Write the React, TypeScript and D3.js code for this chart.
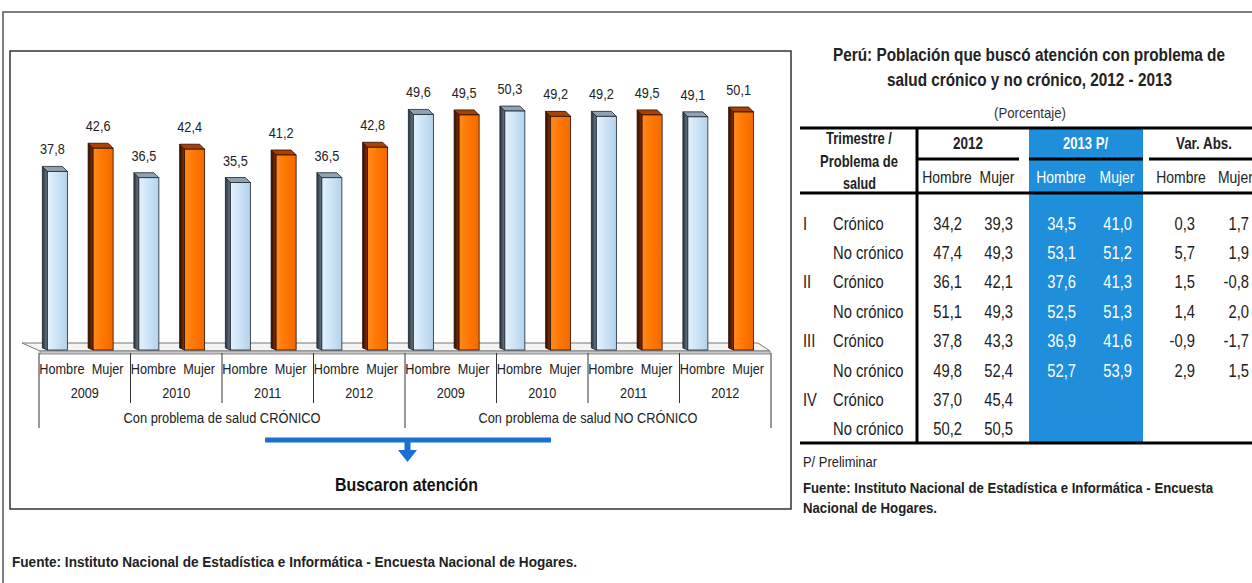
import React from "react";
import * as d3 from "d3";

// ---------- data ----------
const years = ["2009", "2010", "2011", "2012"];
const groups = ["Con problema de salud CRÓNICO", "Con problema de salud NO CRÓNICO"];
const groupLabelWidths = [197, 219];
const sexes = ["Hombre", "Mujer"];
const cronicoHombre = [37.8, 36.5, 35.5, 36.5];
const cronicoMujer = [42.6, 42.4, 41.2, 42.8];
const noCronicoHombre = [49.6, 50.3, 49.2, 49.1];
const noCronicoMujer = [49.5, 49.2, 49.5, 50.1];

const tableQuarters = ["I", "", "II", "", "III", "", "IV", ""];
const tableProblems = ["Crónico", "No crónico", "Crónico", "No crónico", "Crónico", "No crónico", "Crónico", "No crónico"];
const hombre2012 = [34.2, 47.4, 36.1, 51.1, 37.8, 49.8, 37.0, 50.2];
const mujer2012 = [39.3, 49.3, 42.1, 49.3, 43.3, 52.4, 45.4, 50.5];
const hombre2013 = [34.5, 53.1, 37.6, 52.5, 36.9, 52.7, null, null];
const mujer2013 = [41.0, 51.2, 41.3, 51.3, 41.6, 53.9, null, null];
const varHombre = [0.3, 5.7, 1.5, 1.4, -0.9, 2.9, null, null];
const varMujer = [1.7, 1.9, -0.8, 2.0, -1.7, 1.5, null, null];

const FONT = "'Liberation Sans', Arial, sans-serif";
const SX = 0.82; // narrow font emulation
const fmt = (v: number | null) => (v == null ? "" : d3.format(".1f")(v).replace(".", ",").replace("−", "-"));

type TP = {
  x: number;
  y: number;
  size: number;
  anchor?: "start" | "middle" | "end";
  weight?: string;
  fill?: string;
  w?: number;
  children: React.ReactNode;
};
function T({ x, y, size, anchor = "start", weight = "normal", fill = "#222", w, children }: TP) {
  const extra: any = {};
  if (w) {
    extra.textLength = w / SX;
    extra.lengthAdjust = "spacingAndGlyphs";
  }
  return (
    <text
      transform={`translate(${x},${y}) scale(${SX},1)`}
      textAnchor={anchor}
      fontSize={size}
      fontWeight={weight}
      fill={fill}
      {...extra}
    >
      {children}
    </text>
  );
}

export default function App() {
  const W = 1252, H = 583;
  const catKeys: string[] = [];
  groups.forEach((g) => years.forEach((y) => catKeys.push(g + "|" + y)));
  const x0 = d3.scaleBand<string>().domain(catKeys).range([39, 771]);
  const xg = d3.scaleBand<string>().domain(groups).range([39, 771]);
  const bw = x0.bandwidth();
  const xs = d3.scalePoint<string>().domain(sexes).range([0, bw]).padding(0.5);
  const y = d3.scaleLinear().domain([0, 50]).range([354, 112.5]);
  const base = 350;
  const D = 5; // 3D depth
  const HW = 10; // half width front face

  const bars: { cat: string; sex: string; v: number }[] = [];
  const series: Record<string, number[][]> = {
    [groups[0]]: [cronicoHombre, cronicoMujer],
    [groups[1]]: [noCronicoHombre, noCronicoMujer],
  };
  groups.forEach((g) =>
    years.forEach((yr, i) =>
      sexes.forEach((s, j) => bars.push({ cat: g + "|" + yr, sex: s, v: series[g][j][i] }))
    )
  );

  const rowY = (i: number) => 223 + i * 29.4;

  return (
    <svg width={W} height={H} style={{ position: "absolute", left: 0, top: 0, background: "#fff" }} fontFamily={FONT}>
      <defs>
        <linearGradient id="hFront" x1="0" x2="1" y1="0" y2="0">
          <stop offset="0" stopColor="#e4f2fc" />
          <stop offset="0.5" stopColor="#cbe3f6" />
          <stop offset="1" stopColor="#b3d2ea" />
        </linearGradient>
        <linearGradient id="mFront" x1="0" x2="1" y1="0" y2="0">
          <stop offset="0" stopColor="#ff8a1e" />
          <stop offset="0.5" stopColor="#ff7600" />
          <stop offset="1" stopColor="#f06a00" />
        </linearGradient>
        <linearGradient id="hSide" x1="0" x2="1" y1="0" y2="0">
          <stop offset="0" stopColor="#27333d" />
          <stop offset="1" stopColor="#6a7d8e" />
        </linearGradient>
        <linearGradient id="mSide" x1="0" x2="1" y1="0" y2="0">
          <stop offset="0" stopColor="#2e0f00" />
          <stop offset="1" stopColor="#8a3300" />
        </linearGradient>
      </defs>

      {/* outer frame */}
      <path d={`M3,${H + 5} L3,12 L${W + 5},12`} fill="none" stroke="#555" strokeWidth={1.5} />
      {/* inner chart frame */}
      <rect x={10} y={51} width={781} height={458} fill="#fff" stroke="#333" strokeWidth={1.5} />

      {/* floor */}
      <polygon points="22,343 758,343 770,351 40,351" fill="#f4f4f4" stroke="#777" strokeWidth={1} />
      <polygon points="40,351 770,351 770,354 40,354" fill="#c8c8c8" stroke="#777" strokeWidth={0.8} />

      {/* bars */}
      {bars.map((b, i) => {
        const fc = (x0(b.cat) as number) + (xs(b.sex) as number) - 4.5;
        const top = y(b.v);
        const isH = b.sex === "Hombre";
        const stroke = isH ? "#1d252c" : "#2a0c00";
        return (
          <g key={i}>
            <polygon
              points={`${fc - HW},${top} ${fc - HW - D},${top - D} ${fc - HW - D},${base - 2} ${fc - HW},${base}`}
              fill={isH ? "url(#hSide)" : "url(#mSide)"}
              stroke={stroke}
              strokeWidth={0.8}
            />
            <polygon
              points={`${fc - HW},${top} ${fc + HW},${top} ${fc + HW - D},${top - D} ${fc - HW - D},${top - D}`}
              fill={isH ? "#8ea2b3" : "#a84400"}
              stroke={stroke}
              strokeWidth={0.8}
            />
            <rect x={fc - HW} y={top} width={2 * HW} height={base - top} fill={isH ? "url(#hFront)" : "url(#mFront)"} stroke={stroke} strokeWidth={0.8} />
            <T x={fc - 5} y={top - D - 12} anchor="middle" size={15.5}>
              {fmt(b.v)}
            </T>
          </g>
        );
      })}

      {/* axis separators */}
      {catKeys.map((c, i) => {
        const x = x0(c) as number;
        const isGroup = i % years.length === 0;
        return <line key={c} x1={x} x2={x} y1={353} y2={isGroup ? 428 : 403} stroke="#333" strokeWidth={1} />;
      })}
      <line x1={771} x2={771} y1={353} y2={428} stroke="#333" strokeWidth={1} />

      {/* axis labels */}
      {catKeys.map((c) => (
        <g key={"l" + c}>
          {sexes.map((s) => (
            <T key={s} x={(x0(c) as number) + (xs(s) as number)} y={374} anchor="middle" size={15.5}>
              {s}
            </T>
          ))}
          <T x={(x0(c) as number) + bw / 2} y={398} anchor="middle" size={15.5}>
            {c.split("|")[1]}
          </T>
        </g>
      ))}
      {groups.map((g, i) => (
        <T key={g} x={(xg(g) as number) + xg.bandwidth() / 2} y={423} anchor="middle" size={15.5} w={groupLabelWidths[i]}>
          {g}
        </T>
      ))}

      {/* blue arrow */}
      <line x1={265} x2={551} y1={440} y2={440} stroke="#1a6fd3" strokeWidth={5} />
      <rect x={404.5} y={440} width={6} height={12} fill="#1a6fd3" />
      <polygon points="398,450 417,450 407.5,462" fill="#1a6fd3" />
      <T x={406.5} y={491} anchor="middle" size={18} weight="bold" fill="#111" w={143}>
        Buscaron atención
      </T>

      {/* table title */}
      <T x={1029} y={61} anchor="middle" size={17.5} weight="bold" w={392}>
        Perú: Población que buscó atención con problema de
      </T>
      <T x={1029.5} y={86} anchor="middle" size={17.5} weight="bold" w={285}>
        salud crónico y no crónico, 2012 - 2013
      </T>
      <T x={1030} y={118} anchor="middle" size={15} fill="#333" w={72}>
        (Porcentaje)
      </T>

      {/* blue column */}
      <rect x={1029} y={128} width={114} height={314} fill="#1f8fdb" />

      {/* table rules */}
      <line x1={800} x2={W} y1={128} y2={128} stroke="#000" strokeWidth={3} />
      <line x1={917} x2={1019} y1={159} y2={159} stroke="#000" strokeWidth={3} />
      <line x1={1029} x2={1143} y1={159} y2={159} stroke="#000" strokeWidth={3} />
      <line x1={1149} x2={W} y1={159} y2={159} stroke="#000" strokeWidth={3} />
      <line x1={800} x2={W} y1={193} y2={193} stroke="#000" strokeWidth={3} />
      <line x1={917} x2={917} y1={128} y2={443} stroke="#000" strokeWidth={3} />
      <line x1={800} x2={W} y1={443} y2={443} stroke="#000" strokeWidth={3} />

      {/* table headers */}
      <T x={859} y={144} anchor="middle" size={16.5} weight="bold" w={66}>Trimestre /</T>
      <T x={859} y={167} anchor="middle" size={16.5} weight="bold" w={78}>Problema de</T>
      <T x={859.5} y={189} anchor="middle" size={16.5} weight="bold" w={33}>salud</T>
      <T x={968} y={149} anchor="middle" size={16.5} weight="bold" w={30}>2012</T>
      <T x={1085.5} y={149} anchor="middle" size={16.5} weight="bold" fill="#fff" w={45}>2013 P/</T>
      <T x={1204} y={149} anchor="middle" size={16.5} weight="bold" w={56}>Var. Abs.</T>

      <T x={947} y={183} anchor="middle" size={17}>Hombre</T>
      <T x={997} y={183} anchor="middle" size={17}>Mujer</T>
      <T x={1061} y={183} anchor="middle" size={17} fill="#fff">Hombre</T>
      <T x={1117} y={183} anchor="middle" size={17} fill="#fff">Mujer</T>
      <T x={1181} y={183} anchor="middle" size={17}>Hombre</T>
      <T x={1218} y={183} size={17}>Mujer</T>

      {/* table rows */}
      {tableProblems.map((p, i) => (
        <g key={i}>
          <T x={803} y={rowY(i) + 6.5} size={18}>{tableQuarters[i]}</T>
          <T x={833} y={rowY(i) + 6.5} size={18}>{p}</T>
          <T x={962} y={rowY(i) + 6.5} anchor="end" size={18}>{fmt(hombre2012[i])}</T>
          <T x={1013} y={rowY(i) + 6.5} anchor="end" size={18}>{fmt(mujer2012[i])}</T>
          <T x={1076} y={rowY(i) + 6.5} anchor="end" size={18} fill="#fff">{fmt(hombre2013[i])}</T>
          <T x={1132} y={rowY(i) + 6.5} anchor="end" size={18} fill="#fff">{fmt(mujer2013[i])}</T>
          <T x={1195} y={rowY(i) + 6.5} anchor="end" size={18}>{fmt(varHombre[i])}</T>
          <T x={1249} y={rowY(i) + 6.5} anchor="end" size={18}>{fmt(varMujer[i])}</T>
        </g>
      ))}

      {/* table notes */}
      <T x={803} y={467} size={15.5} w={74}>P/ Preliminar</T>
      <T x={803} y={493} size={15} weight="bold" w={410}>
        Fuente: Instituto Nacional de Estadística e Informática - Encuesta
      </T>
      <T x={803} y={513} size={15} weight="bold" w={134}>
        Nacional de Hogares.
      </T>

      {/* footer */}
      <T x={12} y={567} size={14} weight="bold" w={565}>
        Fuente: Instituto Nacional de Estadística e Informática - Encuesta Nacional de Hogares.
      </T>
    </svg>
  );
}
